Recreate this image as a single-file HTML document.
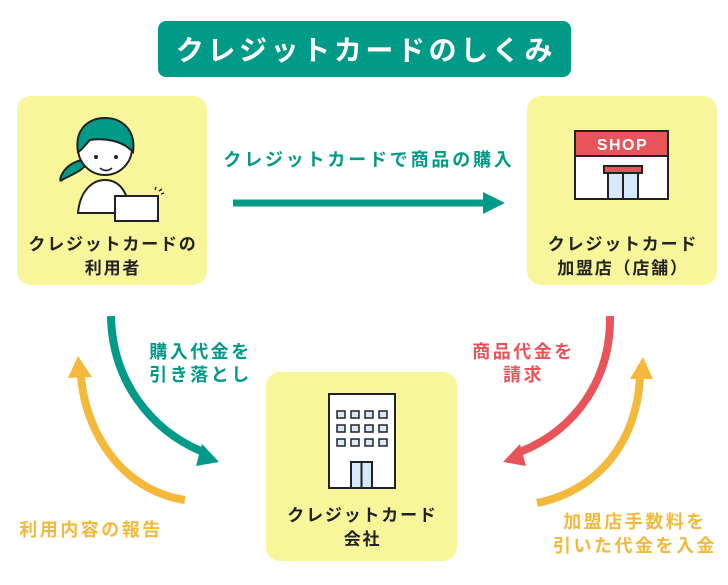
<!DOCTYPE html>
<html><head><meta charset="utf-8"><style>
body{margin:0;width:728px;height:580px;background:#fff;overflow:hidden;font-family:"Liberation Sans","Noto Sans CJK JP",sans-serif;}
</style></head><body>
<svg width="728" height="580" viewBox="0 0 728 580" xmlns="http://www.w3.org/2000/svg" font-family="Liberation Sans, Noto Sans CJK JP, sans-serif" font-weight="bold">
<rect x="158" y="21" width="413" height="56" rx="8" fill="#009a89"/>
<text x="366" y="60" font-size="28" fill="#fff" text-anchor="middle" letter-spacing="3.6">クレジットカードのしくみ</text>

<rect x="17" y="96" width="190" height="189" rx="14" fill="#f8f69a"/>
<rect x="527" y="96" width="190" height="189" rx="14" fill="#f8f69a"/>
<rect x="266" y="372" width="191" height="189" rx="14" fill="#f8f69a"/>

<!-- person -->
<g stroke="#222" stroke-width="2">
<path d="M82,160 C60,165 58,185 62,180 C70,175 82,172 88,162 Z" fill="#009a89"/>
<path d="M78,213 C80,190 93,180 105,180 C118,180 128,190 130,213 Z" fill="#fff"/>
<circle cx="105" cy="148" r="27" fill="#fff"/>
<path d="M78,152 C74,128 90,118 105,118 C122,118 136,130 133,152 C122,140 104,138 90,140 C85,145 82,150 78,152 Z" fill="#009a89"/>
<rect x="115" y="196" width="43" height="25" fill="#fff"/>
</g>
<circle cx="96" cy="157" r="2" fill="#222"/><circle cx="116" cy="157" r="2" fill="#222"/>
<path d="M100,168 Q106,173 112,168" stroke="#222" stroke-width="1.6" fill="none"/>
<path d="M155,190 l1,-3 M159,191 l3,-2 M161,194 l3,-1" stroke="#222" stroke-width="1.4"/>
<text x="113" y="250" font-size="17" fill="#222" text-anchor="middle" letter-spacing="1.8">クレジットカードの</text>
<text x="113" y="274" font-size="17" fill="#222" text-anchor="middle" letter-spacing="1.8">利用者</text>

<!-- shop -->
<g stroke="#222" stroke-width="2">
<rect x="575" y="131" width="93" height="68" fill="#fff"/>
<rect x="575" y="131" width="93" height="25" fill="#e9545a"/>
<rect x="608" y="172" width="30" height="27" fill="#d6e8fb"/>
<line x1="623" y1="172" x2="623" y2="199"/>
<rect x="604" y="166" width="38" height="7" fill="#e9545a"/>
</g>
<text x="622.5" y="150" font-size="16" fill="#fff" text-anchor="middle" letter-spacing="1.5">SHOP</text>
<text x="623" y="250" font-size="17" fill="#222" text-anchor="middle" letter-spacing="1.8">クレジットカード</text>
<text x="623" y="274" font-size="17" fill="#222" text-anchor="middle" letter-spacing="1.8">加盟店（店舗）</text>

<!-- building -->
<g stroke="#222" stroke-width="2">
<rect x="329" y="394" width="66" height="94" fill="#fff"/>
<rect x="351" y="462" width="21" height="26" fill="#d6e8fb"/>
<line x1="361.5" y1="462" x2="361.5" y2="488"/>
</g>
<g fill="#d6e8fb" stroke="#222" stroke-width="1.5">
<rect x="337" y="411" width="8" height="7"/><rect x="351" y="411" width="8" height="7"/><rect x="365" y="411" width="8" height="7"/><rect x="379" y="411" width="8" height="7"/>
<rect x="337" y="425" width="8" height="7"/><rect x="351" y="425" width="8" height="7"/><rect x="365" y="425" width="8" height="7"/><rect x="379" y="425" width="8" height="7"/>
<rect x="337" y="439" width="8" height="7"/><rect x="351" y="439" width="8" height="7"/><rect x="365" y="439" width="8" height="7"/><rect x="379" y="439" width="8" height="7"/>
</g>
<text x="362.5" y="521" font-size="17" fill="#222" text-anchor="middle" letter-spacing="1.8">クレジットカード</text>
<text x="362.5" y="545" font-size="17" fill="#222" text-anchor="middle" letter-spacing="1.8">会社</text>

<!-- top arrow -->
<text x="369" y="166" font-size="18" fill="#009a89" text-anchor="middle" letter-spacing="2.8">クレジットカードで商品の購入</text>
<line x1="233" y1="203" x2="485" y2="203" stroke="#009a89" stroke-width="7"/>
<polygon points="505,203 483,192 483,214" fill="#009a89"/>

<!-- left arrows -->
<path d="M111,316 C112,380 150,430 203,452" stroke="#009a89" stroke-width="8" fill="none"/>
<polygon points="219,462 202,444 196,466" fill="#009a89"/>
<path d="M185,500 C120,490 85,430 81,376" stroke="#f4b93a" stroke-width="8" fill="none"/>
<polygon points="78,356 68,378 92,377" fill="#f4b93a"/>
<text x="200.5" y="358" font-size="18" fill="#009a89" text-anchor="middle" letter-spacing="2.5">購入代金を</text>
<text x="200.5" y="381" font-size="18" fill="#009a89" text-anchor="middle" letter-spacing="2.5">引き落とし</text>
<text x="91" y="536" font-size="18" fill="#f4b93a" text-anchor="middle" letter-spacing="2.5">利用内容の報告</text>

<!-- right arrows -->
<path d="M610,316 C611,380 575,430 520,452" stroke="#e9545a" stroke-width="8" fill="none"/>
<polygon points="503,462 520,444 526,466" fill="#e9545a"/>
<path d="M537,503 C600,490 637,440 640,377" stroke="#f4b93a" stroke-width="8" fill="none"/>
<polygon points="643,357 630,379 653,379" fill="#f4b93a"/>
<text x="523.5" y="358" font-size="18" fill="#e9545a" text-anchor="middle" letter-spacing="2.5">商品代金を</text>
<text x="523.5" y="381" font-size="18" fill="#e9545a" text-anchor="middle" letter-spacing="2.5">請求</text>
<text x="635" y="528" font-size="18" fill="#f4b93a" text-anchor="middle" letter-spacing="2.5">加盟店手数料を</text>
<text x="635" y="552" font-size="18" fill="#f4b93a" text-anchor="middle" letter-spacing="2.5">引いた代金を入金</text>
</svg>
</body></html>
